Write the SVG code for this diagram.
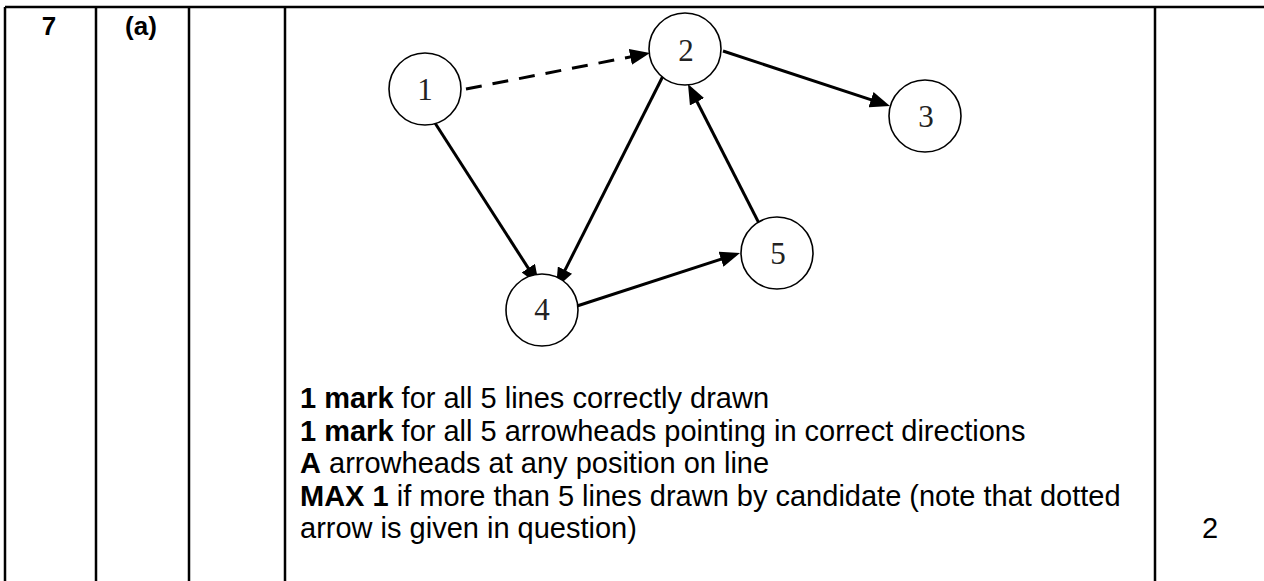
<svg xmlns="http://www.w3.org/2000/svg" width="1264" height="581" viewBox="0 0 1264 581">
  <style>
    .grid { stroke: #000; stroke-width: 2.5; fill: none; }
    .node circle { fill: #fff; stroke: #000; stroke-width: 1.6; }
    .node text { font-family: "Liberation Serif", "Times New Roman", serif; font-size: 31px; fill: #222; text-anchor: middle; }
    .edge { stroke: #000; stroke-width: 3; fill: none; }
    .dashed { stroke-dasharray: 16 11; }
    .hdr { font-family: "Liberation Sans", Arial, sans-serif; font-size: 26px; font-weight: bold; text-anchor: middle; }
    .body { font-family: "Liberation Sans", Arial, sans-serif; font-size: 29px; fill: #000; }
    .body .b { font-weight: bold; }
  </style>
  <defs>
    <marker id="arrow" markerUnits="userSpaceOnUse" markerWidth="21" markerHeight="16" refX="14" refY="8" orient="auto">
      <path d="M0,0 L20,8 L0,16 z" fill="#000"/>
    </marker>
  </defs>

  <rect width="1264" height="581" fill="#fff"/>

  <!-- table rules -->
  <g id="table" class="grid">
    <line x1="5" y1="7" x2="1264" y2="7"/>
    <line x1="5" y1="7" x2="5" y2="581"/>
    <line x1="96" y1="7" x2="96" y2="581"/>
    <line x1="189" y1="7" x2="189" y2="581"/>
    <line x1="285" y1="7" x2="285" y2="581"/>
    <line x1="1155" y1="7" x2="1155" y2="581"/>
  </g>

  <text class="hdr" x="49" y="35">7</text>
  <text class="hdr" x="141" y="35">(a)</text>

  <!-- connectors -->
  <g id="connectors">
    <line class="edge dashed" x1="466" y1="89" x2="644.1" y2="54.2" marker-end="url(#arrow)"/>
    <line class="edge" x1="723" y1="51" x2="884.3" y2="104.1" marker-end="url(#arrow)"/>
    <line class="edge" x1="435" y1="123" x2="535.8" y2="279.9" marker-end="url(#arrow)"/>
    <line class="edge" x1="663" y1="76" x2="558.7" y2="282.6" marker-end="url(#arrow)"/>
    <line class="edge" x1="764" y1="233" x2="690.7" y2="89.3" marker-end="url(#arrow)"/>
    <line class="edge" x1="577" y1="306" x2="734.3" y2="254.9" marker-end="url(#arrow)"/>
  </g>

  <!-- nodes -->
  <g id="node1" class="node"><circle cx="425" cy="89" r="36"/><text x="425" y="100">1</text></g>
  <g id="node2" class="node"><circle cx="685" cy="49" r="36"/><text x="686" y="61">2</text></g>
  <g id="node3" class="node"><circle cx="925" cy="116" r="36"/><text x="926" y="127">3</text></g>
  <g id="node4" class="node"><circle cx="542" cy="310" r="36"/><text x="542" y="320">4</text></g>
  <g id="node5" class="node"><circle cx="777" cy="253" r="36"/><text x="778" y="264">5</text></g>

  <!-- marking notes -->
  <g id="notes" class="body">
    <text x="300" y="408"><tspan class="b">1 mark</tspan> for all 5 lines correctly drawn</text>
    <text x="300" y="441"><tspan class="b">1 mark</tspan> for all 5 arrowheads pointing in correct directions</text>
    <text x="300" y="473"><tspan class="b">A</tspan> arrowheads at any position on line</text>
    <text x="300" y="506"><tspan class="b">MAX 1</tspan> if more than 5 lines drawn by candidate (note that dotted</text>
    <text x="300" y="538">arrow is given in question)</text>
  </g>

  <text class="body" x="1210" y="538" text-anchor="middle">2</text>
</svg>
